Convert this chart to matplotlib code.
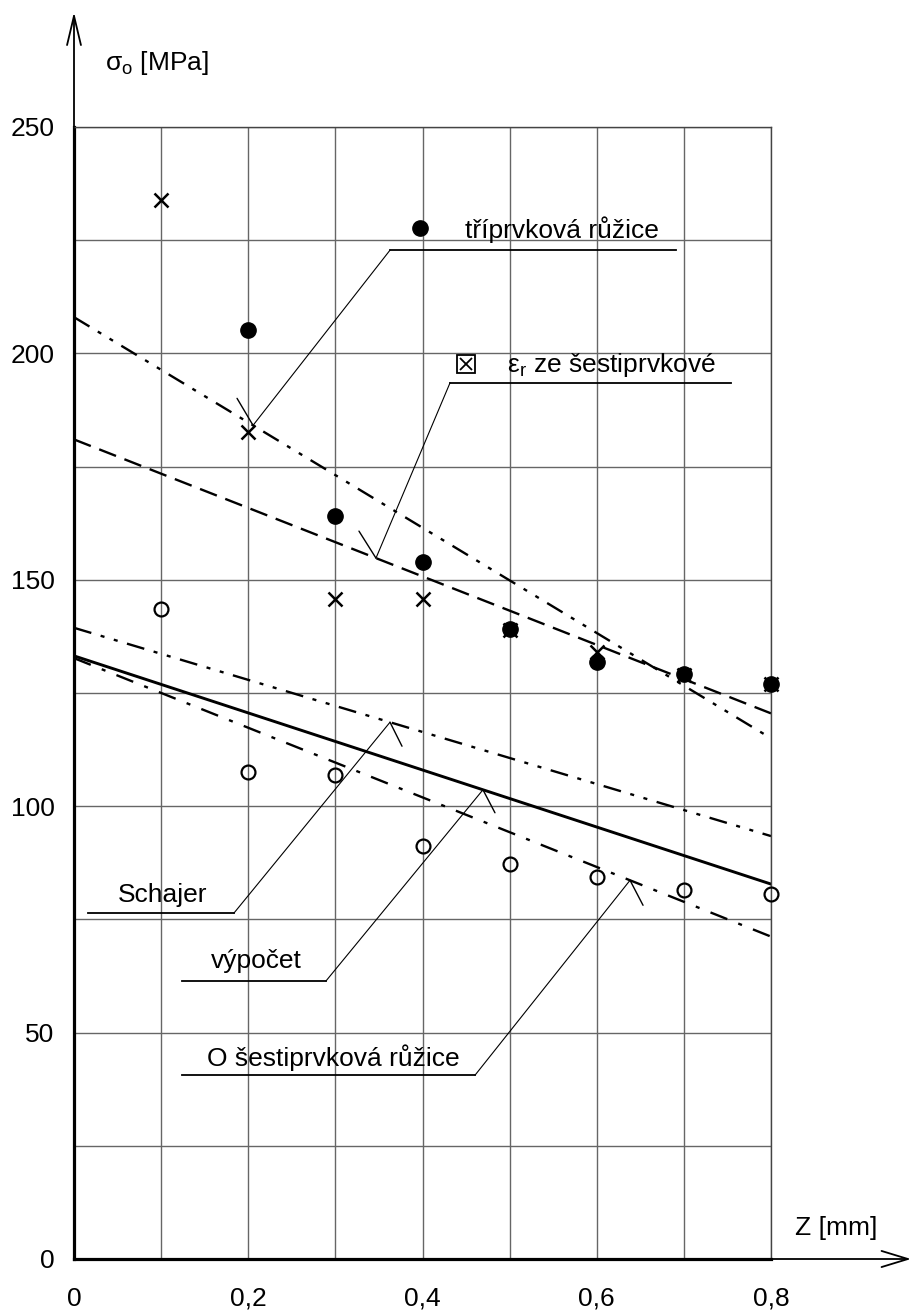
import matplotlib
matplotlib.use('Agg')
import numpy as np
import matplotlib.pyplot as plt

plt.rcParams['font.family'] = ['Liberation Sans', 'DejaVu Sans']
plt.rcParams['mathtext.fontset'] = 'custom'
plt.rcParams['mathtext.rm'] = 'Liberation Sans'
plt.rcParams['mathtext.it'] = 'Liberation Sans:italic'
plt.rcParams['lines.scale_dashes'] = False

# measured values, Z [mm] vs sigma_o [MPa]
z = [0.1, 0.2, 0.3, 0.4, 0.5, 0.6, 0.7, 0.8]
z_tri = [0.2, 0.3, 0.4, 0.5, 0.6, 0.7, 0.8]
sig_tri = [205.2, 164.0, 154.0, 139.1, 131.8, 129.2, 127.0]      # triprvkova ruzice
sig_eps = [233.9, 182.6, 145.8, 145.8, 139.0, 134.0, 129.0, 127.0]  # eps_r ze sestiprvkove
sig_sest = [143.5, 107.5, 106.9, 91.1, 87.2, 84.4, 81.5, 80.6]    # sestiprvkova ruzice

# regression lines, values at Z = 0 and Z = 0.8
fit_z = [0.0, 0.8]
fit_tri = [208.0, 115.0]
fit_eps = [181.0, 120.5]
fit_schajer = [139.4, 93.4]
fit_vypocet = [133.2, 82.8]
fit_sest = [132.7, 71.2]

x_ticks = [0, 0.1, 0.2, 0.3, 0.4, 0.5, 0.6, 0.7, 0.8]
x_labels = ['0', '', '0,2', '', '0,4', '', '0,6', '', '0,8']
y_ticks = [0, 25, 50, 75, 100, 125, 150, 175, 200, 225, 250]
y_labels = ['0', '', '50', '', '100', '', '150', '', '200', '', '250']

FS = 19
PX = 0.72  # points per pixel at 100 dpi

fig = plt.figure(figsize=(9.12, 13.13), dpi=100)
ax = fig.add_axes([74 / 912, 54 / 1313, 697 / 912, 1132 / 1313])
ax.set_xlim(0, 0.8)
ax.set_ylim(0, 250)

ax.set_xticks(x_ticks)
ax.set_xticklabels(x_labels)
ax.set_yticks(y_ticks)
ax.set_yticklabels(y_labels)
ax.tick_params(axis='both', length=0, labelsize=FS)
ax.tick_params(axis='x', pad=20)
ax.tick_params(axis='y', pad=14)
ax.grid(True, color='#666666', lw=1.0)
ax.set_axisbelow(True)

for s in ['left', 'bottom']:
    ax.spines[s].set_linewidth(2.3)
for s in ['top', 'right']:
    ax.spines[s].set_linewidth(1.0)
    ax.spines[s].set_color('#444444')

# axis arrows
ax.annotate('', xy=(0, 1.1016), xytext=(0, 1), xycoords='axes fraction',
            arrowprops=dict(arrowstyle='->,head_length=2.1,head_width=0.5', lw=1.3,
                            color='k', shrinkA=0, shrinkB=0, mutation_scale=10))
ax.annotate('', xy=(1.2009, 0), xytext=(1, 0), xycoords='axes fraction',
            arrowprops=dict(arrowstyle='->,head_length=1.9,head_width=0.58', lw=1.3,
                            color='k', shrinkA=0, shrinkB=0, mutation_scale=10))

ax.text(0.0356, 262.6, r'$\mathrm{σ_o}$ [MPa]', fontsize=FS, ha='left', va='baseline')
ax.text(0.8275, 5.3, 'Z [mm]', fontsize=FS, ha='left', va='baseline')

# fitted lines
dash = (13, 6.5)
dash_dot = (13, 8.5, 2.9, 8.5)
dash_dot_dot = (13, 7, 2.9, 7, 2.9, 7)
ax.plot(fit_z, fit_tri, color='k', lw=1.7, linestyle=(0, dash_dot_dot))
ax.plot(fit_z, fit_eps, color='k', lw=1.7, linestyle=(0, dash))
ax.plot(fit_z, fit_schajer, color='k', lw=1.7, linestyle=(0, dash_dot_dot))
ax.plot(fit_z, fit_vypocet, color='k', lw=2.1, linestyle='-')
ax.plot(fit_z, fit_sest, color='k', lw=1.7, linestyle=(0, dash_dot))

# measured points
ax.plot(z_tri, sig_tri, 'o', color='k', ms=11, clip_on=False, zorder=5)
ax.plot(z, sig_eps, 'x', color='k', ms=10.5, mew=1.8, clip_on=False, zorder=5)
ax.plot(z, sig_sest, 'o', mfc='none', mec='k', ms=10, mew=1.6, clip_on=False, zorder=5)


def leader(x0, x1, y, joint_x, tip_z, fit, tick):
    tip_y = np.interp(tip_z, fit_z, fit)
    ax.plot([x0, x1], [y, y], color='k', lw=1.3, clip_on=False)
    ax.plot([joint_x, tip_z], [y, tip_y], color='k', lw=0.8, clip_on=False)
    ax.annotate('', xy=(tip_z, tip_y), xytext=(tick[0] * PX, tick[1] * PX),
                textcoords='offset points',
                arrowprops=dict(arrowstyle='-', lw=1.0, color='k', shrinkA=0, shrinkB=0))


# labels with leaders
leader(0.3627, 0.691, 222.8, 0.3627, 0.2055, fit_tri, (-16, 27))
ax.plot(0.397, 227.7, 'o', color='k', ms=11)
ax.text(0.4488, 225.5, 'tříprvková růžice', fontsize=FS, ha='left', va='baseline')

leader(0.4316, 0.754, 193.5, 0.4316, 0.3466, fit_eps, (-17, 27))
ax.plot(0.450, 197.7, 's', mfc='none', mec='k', ms=12.5, mew=1.3)
ax.plot(0.450, 197.7, 'x', color='k', ms=8, mew=1.3)
ax.text(0.497, 195.8, r'$\mathrm{ε_r}$ ze šestiprvkové', fontsize=FS, ha='left', va='baseline')

leader(0.0161, 0.1836, 76.4, 0.1836, 0.3627, fit_schajer, (12, -24))
ax.text(0.0505, 78.9, 'Schajer', fontsize=FS, ha='left', va='baseline')

leader(0.1236, 0.2892, 61.4, 0.2892, 0.4694, fit_vypocet, (12, -23))
ax.text(0.1568, 64.3, 'výpočet', fontsize=FS, ha='left', va='baseline')

leader(0.1236, 0.4603, 40.6, 0.4603, 0.6382, fit_sest, (13, -25))
ax.text(0.1522, 42.6, 'O šestiprvková růžice', fontsize=FS, ha='left', va='baseline')

fig.savefig('out.png', dpi=100)
